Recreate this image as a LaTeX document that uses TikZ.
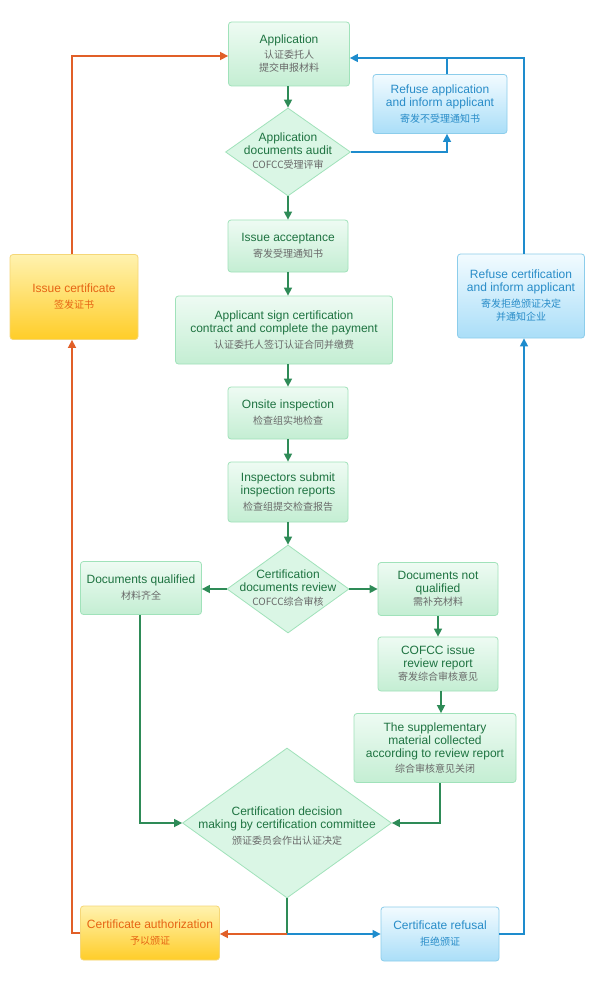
\documentclass[tikz,border=0pt]{standalone}
\usepackage{fontspec}
\setmainfont{Liberation Sans}
\newfontfamily\cjk{Noto Sans CJK SC}
\usetikzlibrary{shapes.geometric,arrows.meta}
\definecolor{gtext}{RGB}{30,115,65}
\definecolor{ztext}{RGB}{105,105,105}
\definecolor{gtop}{RGB}{238,251,243}
\definecolor{gbot}{RGB}{196,238,211}
\definecolor{gbord}{RGB}{160,226,186}
\definecolor{gline}{RGB}{46,139,87}
\definecolor{dfill}{RGB}{218,246,229}
\definecolor{btop}{RGB}{242,251,255}
\definecolor{bbot}{RGB}{170,222,248}
\definecolor{bbord}{RGB}{140,205,235}
\definecolor{btext}{RGB}{40,140,200}
\definecolor{bline}{RGB}{30,140,205}
\definecolor{otop}{RGB}{255,242,175}
\definecolor{obot}{RGB}{255,205,40}
\definecolor{obord}{RGB}{245,215,120}
\definecolor{otext}{RGB}{230,100,20}
\definecolor{oline}{RGB}{225,95,40}
\newcommand{\zh}[1]{{\cjk\fontsize{10}{13}\selectfont #1}}
\tikzset{
  box/.style={rectangle, rounded corners=3pt, line width=0.8pt, align=center,
    inner sep=2pt, font=\fontsize{12}{13}\selectfont},
  gbox/.style={box, draw=gbord, top color=gtop, bottom color=gbot, text=gtext},
  bbox/.style={box, draw=bbord, top color=btop, bottom color=bbot, text=btext},
  obox/.style={box, draw=obord, top color=otop, bottom color=obot, text=otext},
  dia/.style={diamond, draw=gbord, fill=dfill, line width=0.8pt, inner sep=0pt},
  dtext/.style={align=center, text=gtext, font=\fontsize{12}{13}\selectfont},
  tip/.style={-{Triangle[length=8pt,width=8pt]}},
  gl/.style={draw=gline, line width=1.5pt},
  bl/.style={draw=bline, line width=1.5pt},
  ol/.style={draw=oline, line width=1.5pt},
}
\begin{document}
\begin{tikzpicture}[x=1pt,y=-1pt]
\useasboundingbox[fill=white] (0,0) rectangle (600,992);

% green boxes
\node[gbox, minimum width=121pt, minimum height=64pt] (app) at (289,54)
  {Application\\[2pt]\zh{\textcolor{ztext}{认证委托人}}\\\zh{\textcolor{ztext}{提交申报材料}}};
\node[gbox, minimum width=120pt, minimum height=52pt] (acc) at (288,246)
  {Issue acceptance\\[3pt]\zh{\textcolor{ztext}{寄发受理通知书}}};
\node[gbox, minimum width=217pt, minimum height=68pt] (sign) at (284,330)
  {Applicant sign certification\\contract and complete the payment\\[3pt]\zh{\textcolor{ztext}{认证委托人签订认证合同并缴费}}};
\node[gbox, minimum width=120pt, minimum height=52pt] (onsite) at (288,413)
  {Onsite inspection\\[3pt]\zh{\textcolor{ztext}{检查组实地检查}}};
\node[gbox, minimum width=120pt, minimum height=60pt] (insp) at (288,492)
  {Inspectors submit\\inspection reports\\[3pt]\zh{\textcolor{ztext}{检查组提交检查报告}}};
\node[gbox, minimum width=121pt, minimum height=53pt] (docq) at (141,588)
  {Documents qualified\\[3pt]\zh{\textcolor{ztext}{材料齐全}}};
\node[gbox, minimum width=120pt, minimum height=53pt] (docnq) at (438,589)
  {Documents not\\qualified\\[0pt]\zh{\textcolor{ztext}{需补充材料}}};
\node[gbox, minimum width=120pt, minimum height=54pt] (cofcc) at (438,664)
  {COFCC issue\\review report\\[0pt]\zh{\textcolor{ztext}{寄发综合审核意见}}};
\node[gbox, minimum width=162pt, minimum height=69pt] (supp) at (435,748)
  {The supplementary\\material collected\\according to review report\\[2pt]\zh{\textcolor{ztext}{综合审核意见关闭}}};

% diamonds
\node[dia, minimum width=125pt, minimum height=88pt] (audit) at (288,152) {};
\node[dtext] at (288,151) {Application\\documents audit\\[1pt]\zh{\textcolor{ztext}{COFCC受理评审}}};
\node[dia, minimum width=122pt, minimum height=88pt] (rev) at (288,589) {};
\node[dtext] at (288,588) {Certification\\documents review\\[1pt]\zh{\textcolor{ztext}{COFCC综合审核}}};
\node[dia, minimum width=209pt, minimum height=150pt] (dec) at (287,823) {};
\node[dtext] at (287,826) {Certification decision\\making by certification committee\\[3pt]\zh{\textcolor{ztext}{颁证委员会作出认证决定}}};

% blue boxes
\node[bbox, minimum width=134pt, minimum height=59pt] (refapp) at (440,104)
  {Refuse application\\and inform applicant\\[3pt]\zh{寄发不受理通知书}};
\node[bbox, minimum width=127pt, minimum height=84pt] (refcert) at (521,296)
  {Refuse certification\\and inform applicant\\[3pt]\zh{寄发拒绝颁证决定}\\\zh{并通知企业}};
\node[bbox, minimum width=118pt, minimum height=54pt] (refusal) at (440,934)
  {Certificate refusal\\[3pt]\zh{拒绝颁证}};

% orange boxes
\node[obox, minimum width=128pt, minimum height=85pt] (issue) at (74,297)
  {Issue certificate\\[3pt]\zh{签发证书}};
\node[obox, minimum width=139pt, minimum height=54pt] (auth) at (150,933)
  {Certificate authorization\\[3pt]\zh{予以颁证}};

% green connectors
\draw[gl, tip] (app.south -| audit.north) -- (audit.north);
\draw[gl, tip] (audit) -- (acc);
\draw[gl, tip] (acc.south) -- (acc.south |- sign.north);
\draw[gl, tip] (sign.south -| onsite.north) -- (onsite.north);
\draw[gl, tip] (onsite) -- (insp);
\draw[gl, tip] (insp) -- (rev);
\draw[gl, tip] (rev.west) -- (rev.west -| docq.east);
\draw[gl, tip] (rev.east) -- (rev.east -| docnq.west);
\draw[gl, tip] (docnq) -- (cofcc);
\draw[gl, tip] ([xshift=3pt]cofcc.south) -- ([xshift=3pt]cofcc.south |- supp.north);
\draw[gl, tip] ([xshift=-1pt]docq.south) |- (dec.west);
\draw[gl, tip] ([xshift=5pt]supp.south) |- (dec.east);
\coordinate (j) at (dec.south |- refusal.west);
\draw[gl] (dec.south) -- (j);

% blue connectors
\coordinate (tr) at (524,58);
\draw[bl, tip] (audit.east) -| ([xshift=7pt]refapp.south);
\draw[bl] ([xshift=7pt]refapp.north) -- ([xshift=7pt]refapp.north |- tr);
\draw[bl, tip] (refcert.north -| tr) -- (tr) -- (app.east |- tr);
\draw[bl, tip] (refusal.east) -| (refcert.south -| tr);
\draw[bl, tip] (j) -- (refusal.west);

% orange connectors
\coordinate (tl) at (72,56);
\draw[ol, tip] (j) -- (j -| auth.east);
\draw[ol, tip] (auth.west) -| (issue.south -| tl);
\draw[ol, tip] (issue.north -| tl) -- (tl) -- (app.west |- tl);
\end{tikzpicture}
\end{document}
